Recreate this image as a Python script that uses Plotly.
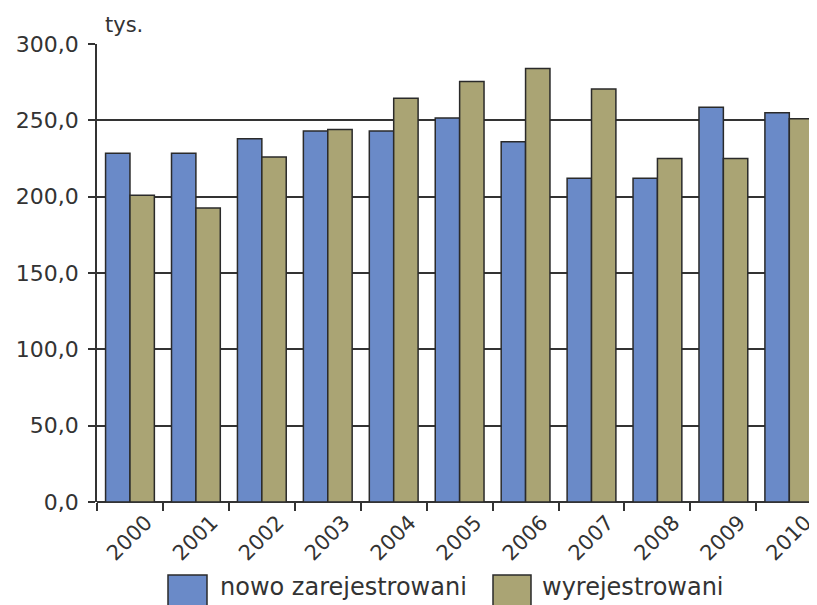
import plotly.graph_objects as go

years = ["2000", "2001", "2002", "2003", "2004", "2005", "2006", "2007", "2008", "2009", "2010"]
nowo = [228.5, 228.5, 238.0, 243.0, 243.0, 251.5, 236.0, 212.0, 212.0, 258.5, 255.0]
wyrej = [201.0, 192.5, 226.0, 244.0, 264.5, 275.5, 284.0, 270.5, 225.0, 225.0, 251.0]
y_ticks = [0, 50, 100, 150, 200, 250, 300]
series_names = ["nowo zarejestrowani", "wyrejestrowani"]
colors = ["#6A8AC8", "#AAA474"]

# page offset (body margin) compensation
OX, OY = 8, 8
W, H = 817 - OX, 605 - OY
# target plot box in screen pixels
SX0, SX1, SY0, SY1 = 97, 817, 44, 502
L, R, T, B = SX0 - OX, 817 - SX1, SY0 - OY, 605 - SY1
pw, ph = W - L - R, H - T - B

def px(x):
    return (x - SX0) / pw

def py(y):
    return (SY1 - y) / ph

font_family = "DejaVu Sans"
txt_color = "#333333"
line_color = "#333333"

fig = go.Figure()
for name, vals, col in zip(series_names, [nowo, wyrej], colors):
    fig.add_trace(go.Bar(
        x=years, y=vals, name=name,
        marker=dict(color=col, line=dict(color="#2a2a2a", width=1.5)),
        showlegend=False,
    ))

fig.update_layout(
    width=W, height=H,
    margin=dict(l=L, r=R, t=T, b=B),
    paper_bgcolor="white", plot_bgcolor="white",
    barmode="group", bargap=0.26, bargroupgap=0,
    separators=", ",
    font=dict(family=font_family, color=txt_color, size=21),
)
fig.update_xaxes(
    type="category", range=[-0.5, 10.42],
    tickson="boundaries", ticks="outside", ticklen=8, tickwidth=1.5, tickcolor=line_color,
    tickangle=-45, ticklabelshift=16, ticklabelstandoff=3,
    tickfont=dict(size=21, color=txt_color, family=font_family),
    showline=False, showgrid=False, zeroline=False,
)
fig.update_yaxes(
    range=[0, 300], tickvals=y_ticks, tickformat=".1f",
    ticks="outside", ticklen=7, tickwidth=1.5, tickcolor=line_color,
    ticklabelstandoff=5,
    tickfont=dict(size=22, color=txt_color, family=font_family),
    showgrid=True, gridcolor=line_color, gridwidth=1.5,
    showline=True, linecolor=line_color, linewidth=1.5,
    zeroline=True, zerolinecolor=line_color, zerolinewidth=1.5,
)

# unit label
fig.add_annotation(text="tys.", xref="paper", yref="paper", x=px(103), y=py(25),
                   xanchor="left", yanchor="middle", showarrow=False,
                   font=dict(size=21, color=txt_color, family=font_family))

# custom legend
legend_items = [(168, 207, 218), (493, 531, 540)]
for (x0, x1, tx), name, col in zip(legend_items, series_names, colors):
    fig.add_shape(type="rect", xref="paper", yref="paper",
                  x0=px(x0), x1=px(x1), y0=py(575), y1=py(607),
                  fillcolor=col, line=dict(color="#2a2a2a", width=1.5))
    fig.add_annotation(text=name, xref="paper", yref="paper", x=px(tx), y=py(587),
                       xanchor="left", yanchor="middle", showarrow=False,
                       font=dict(size=24, color=txt_color, family=font_family))

fig.write_html("out.html")
